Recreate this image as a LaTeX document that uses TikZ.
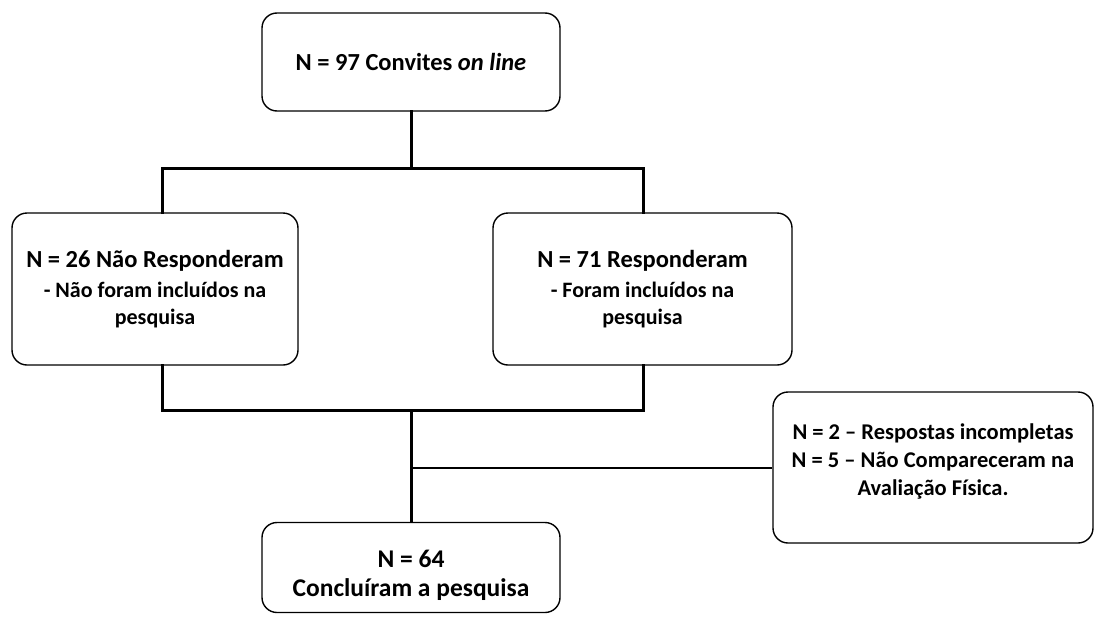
\documentclass[tikz,border=0pt]{standalone}
\usepackage{fontspec}
\setmainfont{Carlito}
\begin{document}
\begin{tikzpicture}[x=1pt,y=-1pt,
  box/.style={draw=black,line width=1.4pt,rounded corners=15pt,fill=white,align=center,inner sep=2pt},
  conn/.style={line width=3pt,line cap=rect}]
\useasboundingbox (0,0) rectangle (1095,616);
\node[box,minimum width=298pt,minimum height=98pt,font=\bfseries\fontsize{24.5}{29}\selectfont] (top) at (411,62) {N = 97 Convites \textit{on line}};
\node[box,minimum width=286pt,minimum height=152pt,font=\bfseries\fontsize{22}{27}\selectfont] (left) at (155,289)
  {{\fontsize{24.5}{29}\selectfont N = 26 Não Responderam}\\[3pt]- Não foram incluídos na\\pesquisa};
\node[box,minimum width=299pt,minimum height=152pt,font=\bfseries\fontsize{22}{27}\selectfont] (right) at (642.5,289)
  {{\fontsize{24.5}{29}\selectfont N = 71 Responderam}\\[3pt]- Foram incluídos na\\pesquisa};
\node[box,minimum width=320pt,minimum height=151pt,font=\bfseries\fontsize{22.5}{28}\selectfont] (side) at (933,467.5)
  {N = 2 – Respostas incompletas\\N = 5 – Não Compareceram na\\Avaliação Física.\\[-12pt]};
\node[box,minimum width=298pt,minimum height=90pt,font=\bfseries\fontsize{25.5}{29}\selectfont] (bot) at (411,567.5)
  {\rule{0pt}{32pt}N = 64\\Concluíram a pesquisa};
\coordinate (j1) at (411,168);
\coordinate (l1) at (162,168);
\coordinate (r1) at (643,168);
\coordinate (l2) at (162,410);
\coordinate (r2) at (643,410);
\coordinate (j2) at (411,410);
\coordinate (j3) at (411,468);
\draw[conn] (top.south) -- (j1);
\draw[conn] (l1 |- left.north) -- (l1) -- (r1) -- (r1 |- right.north);
\draw[conn] (l1 |- left.south) -- (l2) -- (r2) -- (r2 |- right.south);
\draw[conn] (j2) -- (bot.north);
\draw[line width=2pt] (j3) -- (side.west |- j3);
\end{tikzpicture}
\end{document}
